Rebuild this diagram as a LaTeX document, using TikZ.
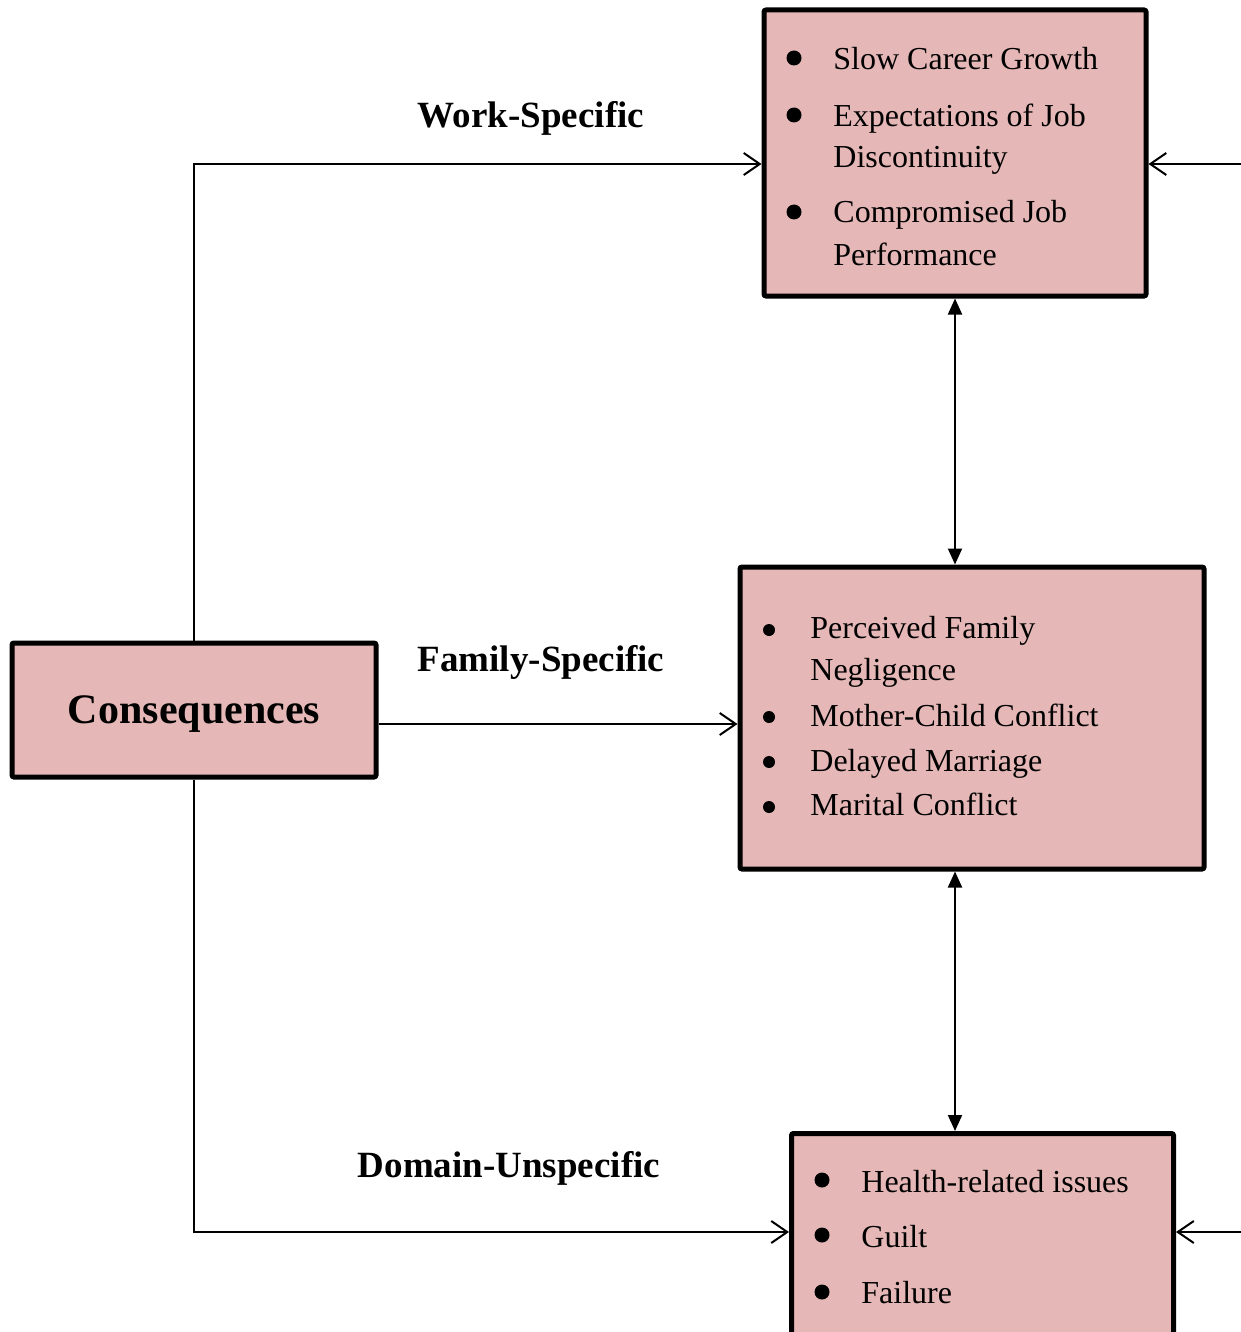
\documentclass[tikz,border=0pt]{standalone}
\usepackage{fontspec}
\setmainfont{Liberation Serif}
\usetikzlibrary{arrows.meta}
\definecolor{boxpink}{HTML}{E5B8B7}
\tikzset{
  box/.style={draw=black, line width=2.5pt, rounded corners=1pt, fill=boxpink, rectangle, inner sep=0pt},
  item/.style={anchor=base west, inner sep=0pt, font=\fontsize{16}{19}\selectfont},
  dotbig/.style={circle, fill=black, inner sep=0pt, minimum size=7.5pt},
  dotsmall/.style={circle, fill=black, inner sep=0pt, minimum size=6pt},
  tag/.style={anchor=base, inner sep=0pt, font=\fontsize{18.5}{22}\selectfont\bfseries},
  flow/.style={line width=1pt, -{Straight Barb[length=8pt,width=11pt,line width=1pt]}},
  link/.style={line width=1pt, {Triangle[length=8pt,width=7pt]}-{Triangle[length=8pt,width=7pt]}},
}
\begin{document}
\begin{tikzpicture}[x=0.5pt, y=-0.5pt]
  \clip (0,0) rectangle (1241,1332);
  \fill[white] (0,0) rectangle (1241,1332);

  % boxes
  \node[box, minimum width=182pt, minimum height=67pt] (cons) at (194,710) {};
  \node[font=\fontsize{21}{25}\selectfont\bfseries] at ([yshift=-2pt]cons.center) {Consequences};
  \node[box, minimum width=191pt, minimum height=143pt] (work) at (955,153) {};
  \node[box, minimum width=232pt, minimum height=151pt] (fam) at (972,718) {};
  \node[box, minimum width=191pt, minimum height=106pt] (dom) at (982.5,1239.5) {};

  % work-specific items
  \node[dotbig] (w1) at (794,58) {};
  \node[dotbig] (w2) at (794,115) {};
  \node[dotbig] (w3) at (794,212) {};
  \node[item] (wt1) at (833,70) {Slow Career Growth};
  \node[item] (wt2) at (833,127) {Expectations of Job};
  \node[item] (wt3) at (833,168) {Discontinuity};
  \node[item] (wt4) at (833,223) {Compromised Job};
  \node[item] (wt5) at (833,265) {Performance};

  % family-specific items
  \node[dotsmall] (f1) at (769,630) {};
  \node[dotsmall] (f2) at (769,717) {};
  \node[dotsmall] (f3) at (769,762) {};
  \node[dotsmall] (f4) at (769,807) {};
  \node[item] (ft1) at (810,638) {Perceived Family};
  \node[item] (ft2) at (810,680) {Negligence};
  \node[item] (ft3) at (810,726) {Mother-Child Conflict};
  \node[item] (ft4) at (810,771) {Delayed Marriage};
  \node[item] (ft5) at (810,815) {Marital Conflict};

  % domain-unspecific items
  \node[dotbig] (d1) at (822,1180) {};
  \node[dotbig] (d2) at (822,1235) {};
  \node[dotbig] (d3) at (822,1292) {};
  \node[item] (dt1) at (861,1192) {Health-related issues};
  \node[item] (dt2) at (861,1247) {Guilt};
  \node[item] (dt3) at (861,1303) {Failure};

  % branch labels
  \node[tag] (lw) at (531,128) {Work-Specific};
  \node[tag] (lf) at (541,671) {Family-Specific};
  \node[tag] (ld) at (509,1177) {Domain-Unspecific};

  % connectors
  \draw[flow] (cons.north) |- (work.west |- 0,164);
  \draw[flow] (cons.east |- 0,724) -- (fam.west |- 0,724);
  \draw[flow] (cons.south) |- (dom.west |- 0,1232);
  \draw[link] (work.south) -- (work.south |- fam.north);
  \draw[link] (work.south |- fam.south) -- (work.south |- dom.north);

  % feeds entering from the right
  \coordinate (rtop) at (1245,164);
  \coordinate (rbot) at (1245,1232);
  \draw[flow] (rtop) -- (work.east |- rtop);
  \draw[flow] (rbot) -- (dom.east |- rbot);
\end{tikzpicture}
\end{document}
